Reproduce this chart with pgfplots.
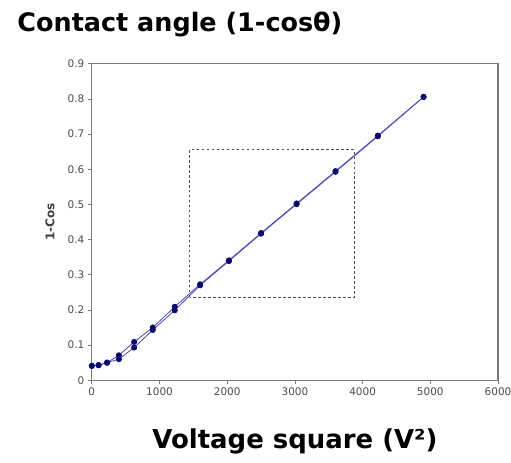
\documentclass[border=0pt]{standalone}
\usepackage{fontspec}
\setmainfont{Liberation Sans}
\newfontfamily\verd{DejaVu Sans}
\usepackage{pgfplots}
\pgfplotsset{compat=1.18}

\definecolor{linecol}{HTML}{4A4AB0}
\definecolor{markcol}{HTML}{0A0A6E}
\definecolor{framecol}{HTML}{7A7A7A}

\begin{document}
\begin{tikzpicture}
\useasboundingbox (-92pt,-82pt) rectangle (420pt,381pt);
\begin{axis}[
scale only axis,
width=407pt,
height=317pt,
xmin=0, xmax=6000,
ymin=0, ymax=0.9,
xtick={0,1000,...,6000},
ytick={0,0.1,...,0.9},
yticklabels={0,0.1,0.2,0.3,0.4,0.5,0.6,0.7,0.8,0.9},
scaled x ticks=false,
xticklabel style={/pgf/number format/1000 sep={}},
/pgf/number format/assume math mode=true,
tick label style={font=\verd\fontsize{10.5}{12}\selectfont, color=black!70},
tick align=outside,
major tick length=4pt,
tick style={framecol, line width=0.8pt},
xtick pos=bottom, ytick pos=left,
axis line style={framecol, line width=1.2pt},
title={Contact angle (1-cosθ)},
title style={at={(0,1)}, anchor=base west, xshift=-78pt, yshift=26pt,
  font=\verd\bfseries\fontsize{25.5}{30}\selectfont},
xlabel={Voltage square (V²)},
xlabel style={at={(axis description cs:0.5,0)}, anchor=base, yshift=-68pt,
  font=\verd\bfseries\fontsize{26}{30}\selectfont},
ylabel={1-Cos},
ylabel style={at={(axis description cs:-0.103,0.5)}, anchor=center,
  font=\verd\bfseries\fontsize{12}{14}\selectfont, color=black!75},
clip=false,
]
% up sweep
\addplot[color=linecol, line width=0.8pt, mark=*, mark size=2.6pt,
  mark options={fill=markcol, draw=markcol}] coordinates {
(0,0.041) (100,0.043) (225,0.050) (400,0.071) (625,0.109) (900,0.150)
(1225,0.209) (1600,0.273) (2025,0.341) (2500,0.419) (3025,0.503)
(3600,0.595) (4225,0.696) (4900,0.806)};
% down sweep
\addplot[color=linecol, line width=0.8pt, mark=*, mark size=2.6pt,
  mark options={fill=markcol, draw=markcol}] coordinates {
(0,0.041) (100,0.043) (225,0.050) (400,0.060) (625,0.093) (900,0.143)
(1225,0.199) (1600,0.270) (2025,0.339) (2500,0.417) (3025,0.501)
(3600,0.593) (4225,0.694) (4900,0.806)};
% zoom region box
\draw[black!70, line width=1pt, dash pattern=on 2.5pt off 2.5pt]
  (axis cs:1445,0.236) rectangle (axis cs:3880,0.656);
\end{axis}
\end{tikzpicture}
\end{document}
